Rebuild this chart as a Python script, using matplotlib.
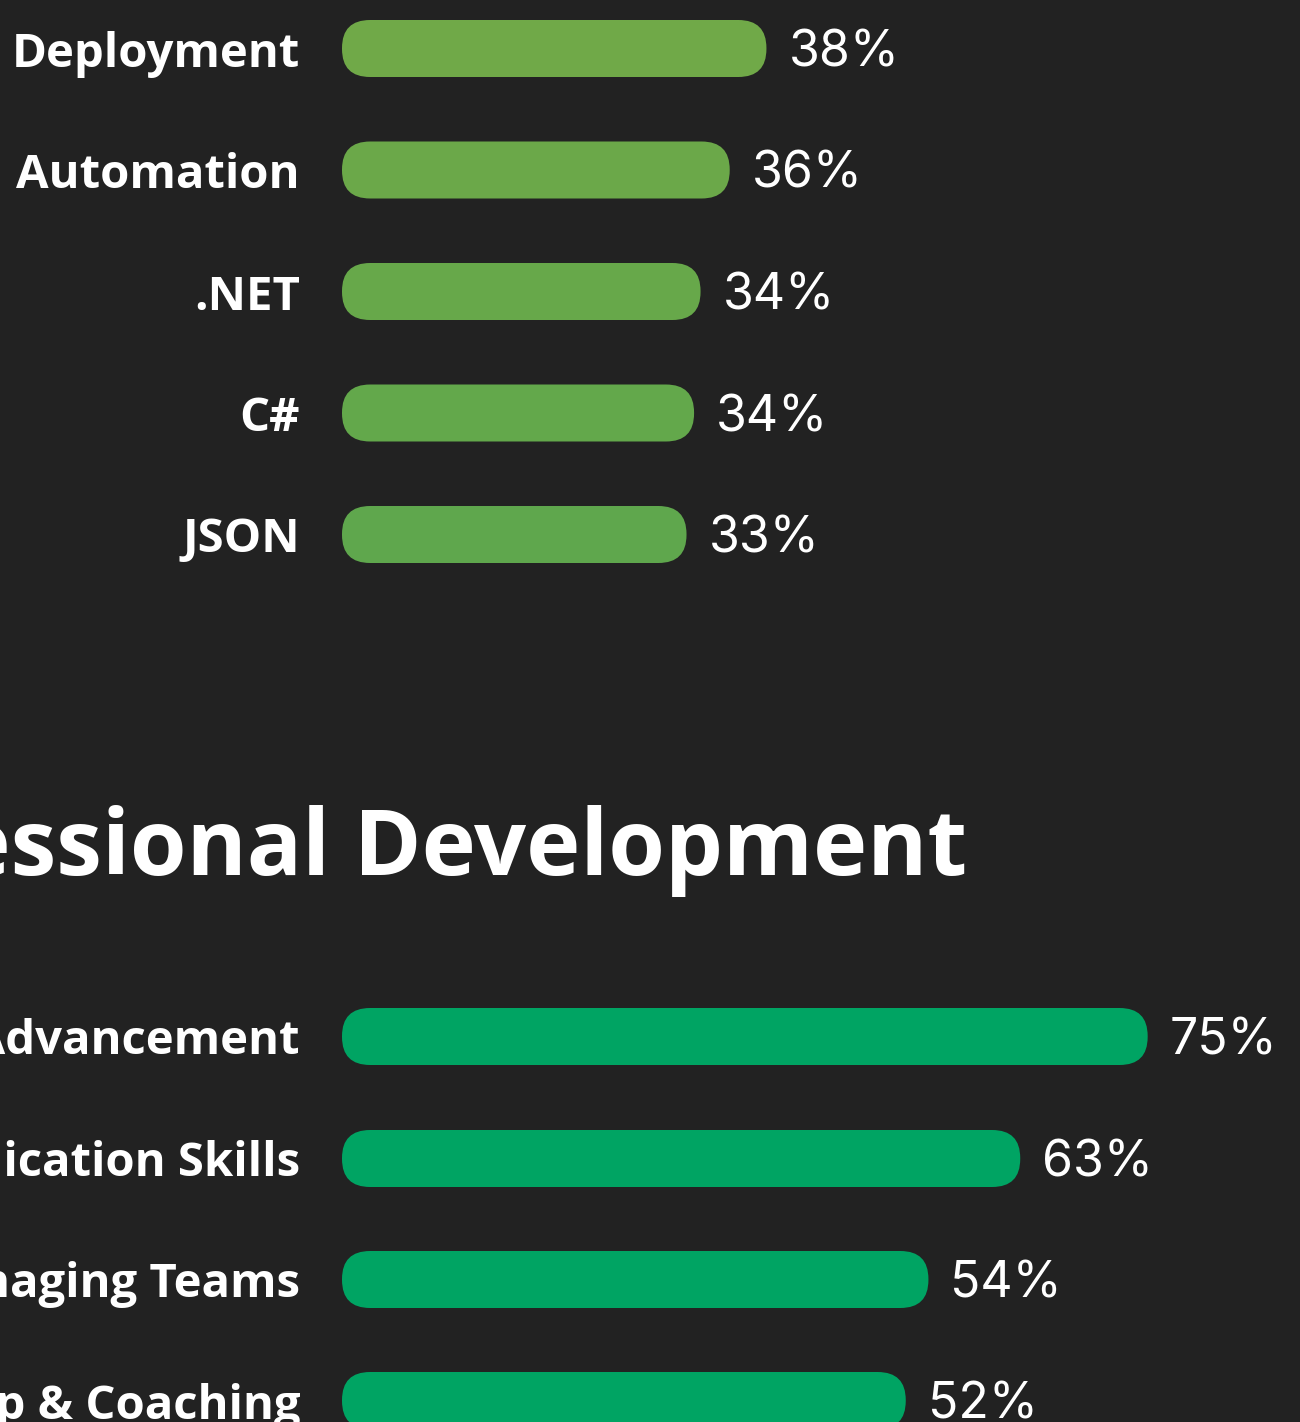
import matplotlib.pyplot as plt
from matplotlib.patches import FancyBboxPatch

# top block (title is above the visible crop)
top_labels = ['Deployment', 'Automation', '.NET', 'C#', 'JSON']
top_values = [39.3, 35.9, 33.2, 32.6, 31.9]
top_text = ['38%', '36%', '34%', '34%', '33%']
top_colors = ['#70a948', '#6ba849', '#67a84a', '#63a84b', '#5fa74d']

# professional development block
dev_title = 'Professional Development'
dev_labels = ['Career Advancement', 'Communication Skills', 'Managing Teams',
              'Mentorship & Coaching']
dev_values = [74.6, 62.8, 54.3, 52.2]
dev_text = ['75%', '63%', '54%', '52%']
dev_color = '#00a463'

BG = '#222222'
W, H = 1300, 1422
X0, PX = 342, 10.8          # bar origin and pixels per percent

fig = plt.figure(figsize=(W / 100, H / 100), dpi=100, facecolor=BG)
ax = fig.add_axes([0, 0, 1, 1])
ax.set_facecolor(BG)
ax.set_xlim(-X0 / PX, (W - X0) / PX)
ax.set_ylim(H, 0)
ax.axis('off')

bar_h = 57
r_x = 2.6  # corner radius in percent units


def draw_block(labels, values, texts, colors, y_centers):
    bars = ax.barh(y_centers, values, height=bar_h, color=colors)
    for b, lab, txt, yc in zip(bars, labels, texts, y_centers):
        b.set_visible(False)
        fb = FancyBboxPatch((b.get_x(), b.get_y()), b.get_width(), b.get_height(),
                            boxstyle=f'round,pad=0,rounding_size={r_x}',
                            mutation_aspect=PX, facecolor=b.get_facecolor(),
                            edgecolor='none')
        ax.add_patch(fb)
        ax.text(-42 / PX, yc + 18, lab, ha='right', va='baseline', color='white',
                fontsize=34, fontweight='bold', family='Open Sans')
        ax.text(b.get_width() + 22 / PX, yc + 18, txt, ha='left', va='baseline',
                color='white', fontsize=36, family='Inter')


draw_block(top_labels, top_values, top_text, top_colors,
           [48.5, 170, 291.5, 413, 534.5])

ax.text((967 - X0) / PX, 875, dev_title, ha='right', va='baseline', color='white',
        fontsize=66, fontweight='bold', family='Open Sans')

draw_block(dev_labels, dev_values, dev_text, [dev_color] * 4,
           [1036.5, 1158.5, 1279.5, 1400.5])

fig.savefig('out.png', dpi=100, facecolor=BG)
